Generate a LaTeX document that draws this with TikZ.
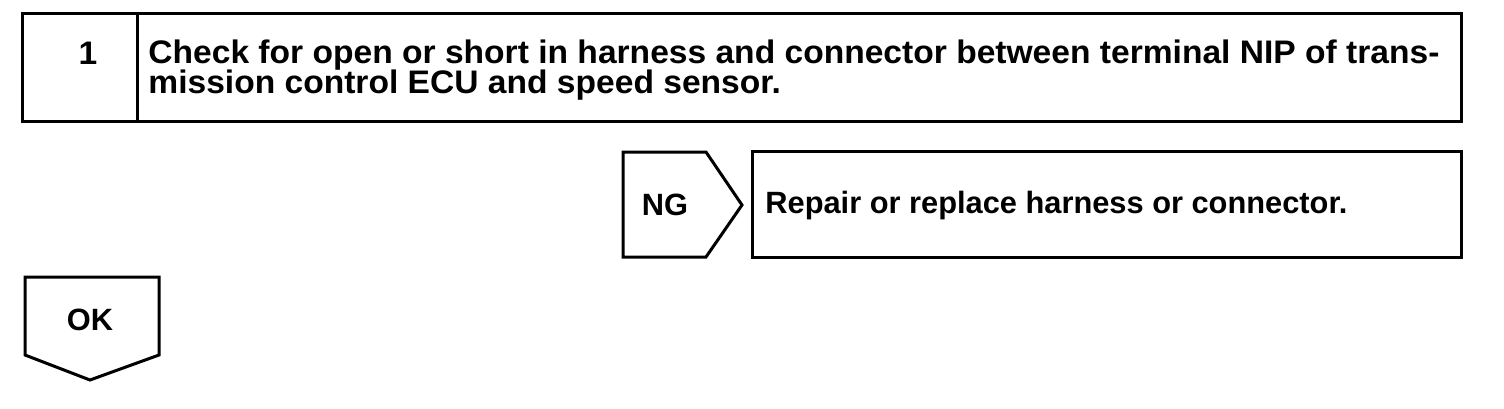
\documentclass[tikz,border=0pt]{standalone}
\usepackage{fontspec}
\setmainfont{Liberation Sans}
\begin{document}
\begin{tikzpicture}[x=0.5pt,y=-0.5pt,line join=miter,
  frame/.style={draw,line width=1.5pt},
  txt/.style={font=\fontsize{15.4}{15}\selectfont\bfseries,inner sep=0pt},
  headtxt/.style={font=\fontsize{16.3}{15}\selectfont\bfseries\addfontfeature{FakeStretch=1.03},inner sep=0pt}]
\useasboundingbox (0,0) rectangle (1504,408);
% step header
\node[frame,minimum width=57.5pt,minimum height=54pt,inner sep=0pt] (num) at (79.5,67) {};
\node[frame,minimum width=662pt,minimum height=54pt,inner sep=0pt] (body) at (799,67) {};
\node[headtxt] (numtxt) at (88,53) {1};
\node[headtxt,anchor=base west] (l1) at (148,63) {Check for open or short in harness and connector between terminal NIP of trans-};
\node[headtxt,anchor=base west] (l2) at (148,93) {mission control ECU and speed sensor.};
% NG branch
\draw[frame] (623,152) -- (706,152) -- (742,205) -- (706,257) -- (623,257) -- cycle;
\node[txt] (ng) at (665,205) {NG};
\node[frame,minimum width=354.5pt,minimum height=53pt,inner sep=0pt] (repair) at (1106.5,204) {};
\node[txt,anchor=base west] (reptxt) at (765,213) {Repair or replace harness or connector.};
% OK branch
\draw[frame] (25,277) -- (159,277) -- (159,355) -- (90,380) -- (25,355) -- cycle;
\node[txt] (ok) at (90,320) {OK};
\end{tikzpicture}
\end{document}
